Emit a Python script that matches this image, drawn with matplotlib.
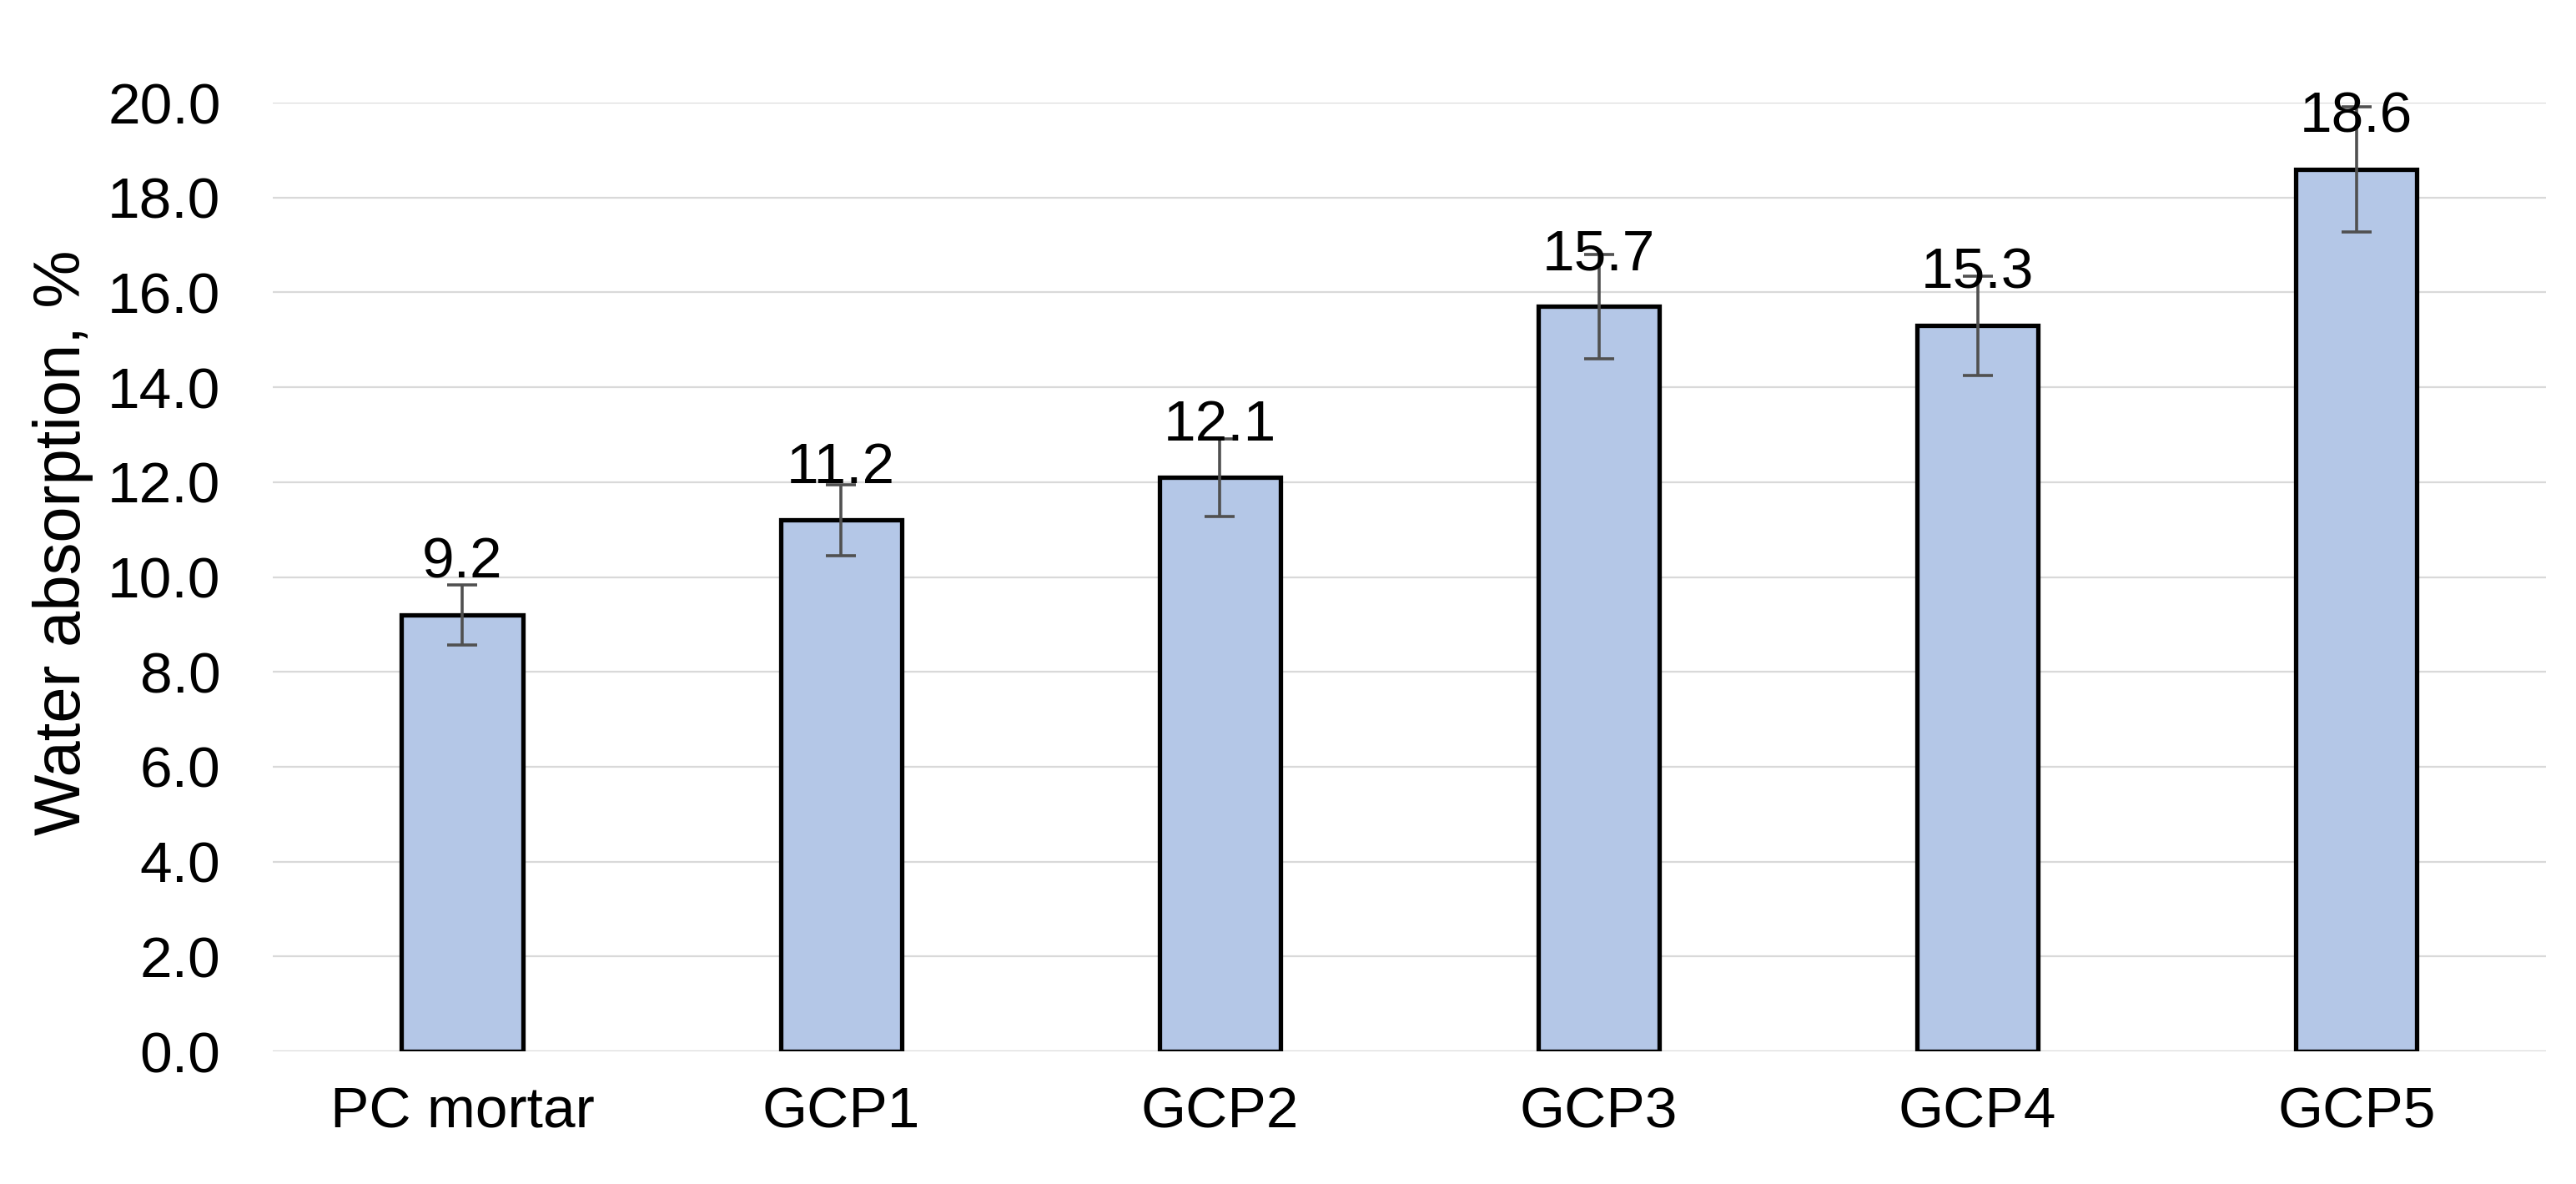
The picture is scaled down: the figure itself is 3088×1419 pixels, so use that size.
import matplotlib
matplotlib.use("Agg")
import matplotlib.pyplot as plt
import numpy as np

categories = ["PC mortar", "GCP1", "GCP2", "GCP3", "GCP4", "GCP5"]
water_absorption = [9.2, 11.2, 12.1, 15.7, 15.3, 18.6]
errors = [0.63, 0.75, 0.82, 1.1, 1.05, 1.32]
y_ticks = [0, 2, 4, 6, 8, 10, 12, 14, 16, 18, 20]

plt.rcParams['font.family'] = ['Liberation Sans', 'DejaVu Sans']

fig = plt.figure(figsize=(30.88, 14.19), dpi=100)
ax = fig.add_axes([0.1059, 0.112, 0.8824, 0.8013])

x = np.arange(len(categories))
bars = ax.bar(x, water_absorption, width=0.32, color='#B4C7E7',
              edgecolor='black', linewidth=3.8, zorder=3)
ax.errorbar(x, water_absorption, yerr=errors, fmt='none', ecolor='#505050',
            elinewidth=2.6, capsize=13, capthick=2.6, zorder=4)

for xi, v in zip(x, water_absorption):
    ax.annotate(f"{v:.1f}", (xi, v), xytext=(0, 32), textcoords='offset points',
                ha='center', va='baseline', fontsize=50, zorder=5,
                annotation_clip=False)

ax.set_xlim(-0.5, len(categories) - 0.5)
ax.set_ylim(0, 20)
ax.set_yticks(y_ticks)
ax.set_yticklabels([f"{t:.1f}" for t in y_ticks])
ax.set_xticks(x)
ax.set_xticklabels(categories)
ax.tick_params(axis='y', length=0, pad=45, labelsize=50)
ax.tick_params(axis='x', length=0, pad=30, labelsize=50)

ax.yaxis.grid(True, color='#D9D9D9', linewidth=1.6, zorder=0)
ax.set_axisbelow(True)
for s in ax.spines.values():
    s.set_visible(False)

ax.set_ylabel("Water absorption, %", fontsize=56)
ax.yaxis.set_label_coords(-0.079, 0.536)

fig.savefig("out.png", dpi=100)
